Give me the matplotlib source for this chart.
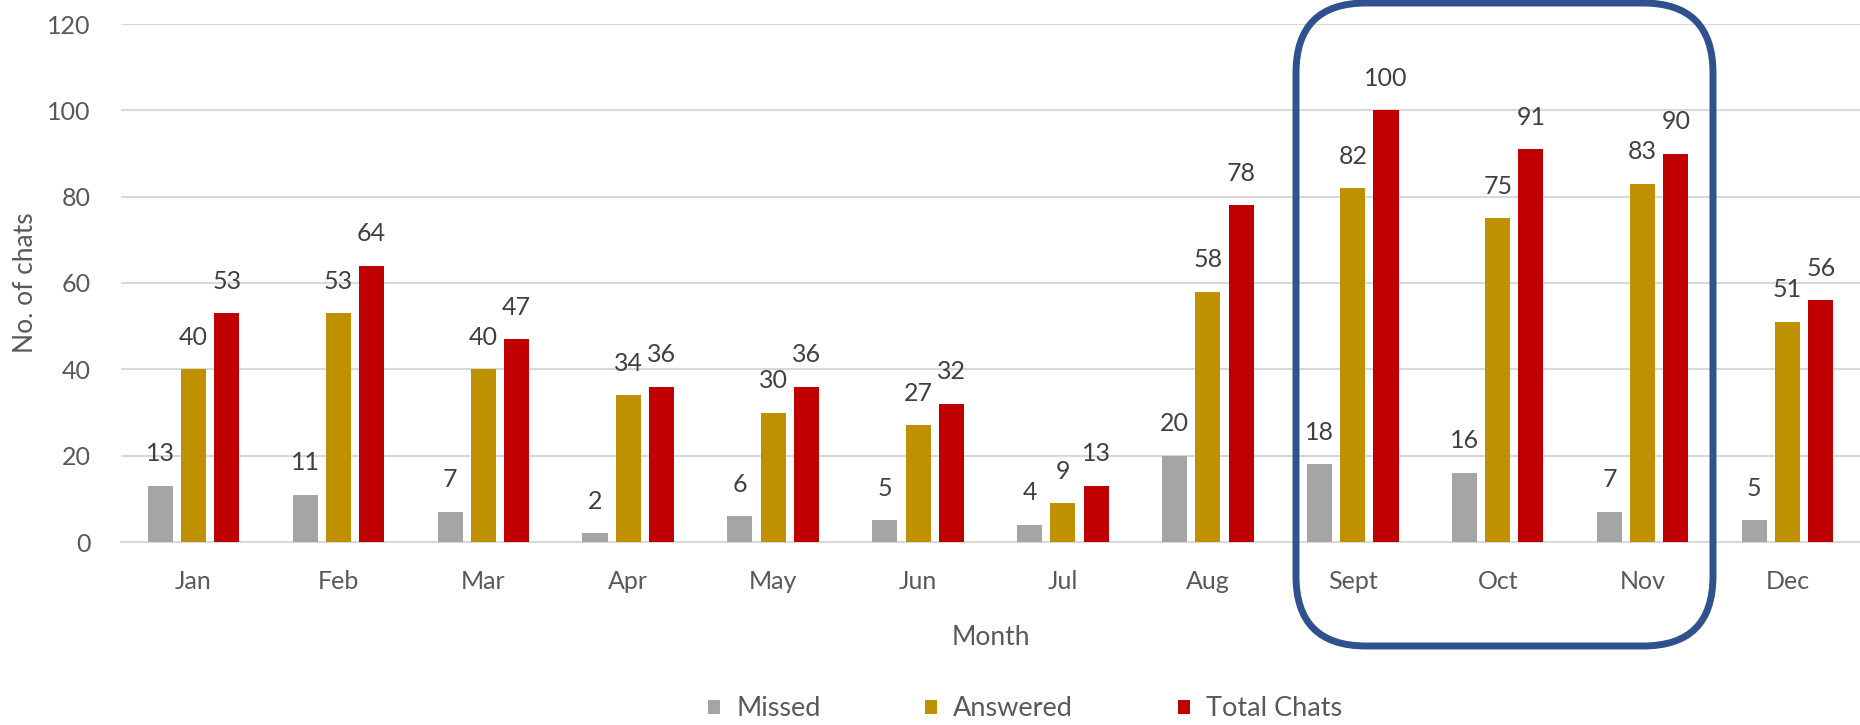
import numpy as np
import matplotlib
matplotlib.use('Agg')
import matplotlib.pyplot as plt
from matplotlib.patches import FancyBboxPatch

# Data
months = ['Jan', 'Feb', 'Mar', 'Apr', 'May', 'Jun', 'Jul', 'Aug', 'Sept', 'Oct', 'Nov', 'Dec']
missed = [13, 11, 7, 2, 6, 5, 4, 20, 18, 16, 7, 5]
answered = [40, 53, 40, 34, 30, 27, 9, 58, 82, 75, 83, 51]
total_chats = [53, 64, 47, 36, 36, 32, 13, 78, 100, 91, 90, 56]
series_names = ['Missed', 'Answered', 'Total Chats']
colors = ['#A5A5A5', '#BF9000', '#C00000']

plt.rcParams['font.family'] = ['Lato', 'DejaVu Sans']

fig = plt.figure(figsize=(18.6, 7.25), dpi=100)
ax = fig.add_axes([121 / 1860, 183 / 725, 1739 / 1860, 518 / 725])

x = np.arange(len(months))
width = 0.173
offset = 0.229
bars = []
for i, (vals, name, c) in enumerate(zip([missed, answered, total_chats], series_names, colors)):
    pos = x + (i - 1) * offset
    b = ax.bar(pos, vals, width=width, color=c, label=name, zorder=3)
    bars.append(b)
    for px, v in zip(pos, vals):
        ax.annotate(str(v), xy=(px, v), xytext=(0, 23), textcoords='offset points',
                    ha='center', va='center', fontsize=18, color='#404040')

ax.set_xlim(-0.5, len(months) - 0.5)
ax.set_ylim(0, 120)
ax.set_yticks(range(0, 121, 20))
ax.set_xticks(x)
ax.set_xticklabels(months)
ax.grid(axis='y', color='#D9D9D9', linewidth=1.5, zorder=0)
for s in ['top', 'right', 'left']:
    ax.spines[s].set_visible(False)
ax.spines['bottom'].set_color('#D9D9D9')
ax.spines['bottom'].set_linewidth(1.5)
ax.tick_params(axis='both', length=0, labelsize=18, colors='#595959')
ax.tick_params(axis='y', pad=22)
ax.tick_params(axis='x', pad=20)

ax.set_xlabel('Month', fontsize=19, color='#595959')
ax.set_ylabel('No. of chats', fontsize=19, color='#595959')
ax.xaxis.set_label_coords(0.5, -0.16)
ax.yaxis.set_label_coords(-0.048, 0.5)

fig.legend(handles=bars, labels=series_names, loc='center', bbox_to_anchor=(1025 / 1860, 16 / 725),
           ncol=3, frameon=False, fontsize=19.5, labelcolor='#595959',
           handlelength=0.45, handleheight=0.45, handletextpad=0.6, columnspacing=3.85)

# Highlight box around Sept-Nov
box = FancyBboxPatch((12.96, 0.79), 4.17, 6.43,
                     boxstyle='round,pad=0,rounding_size=0.7',
                     transform=fig.dpi_scale_trans, fill=False,
                     edgecolor='#2F528F', linewidth=5, clip_on=False, zorder=10)
fig.add_artist(box)

fig.savefig('out.png', dpi=100)
